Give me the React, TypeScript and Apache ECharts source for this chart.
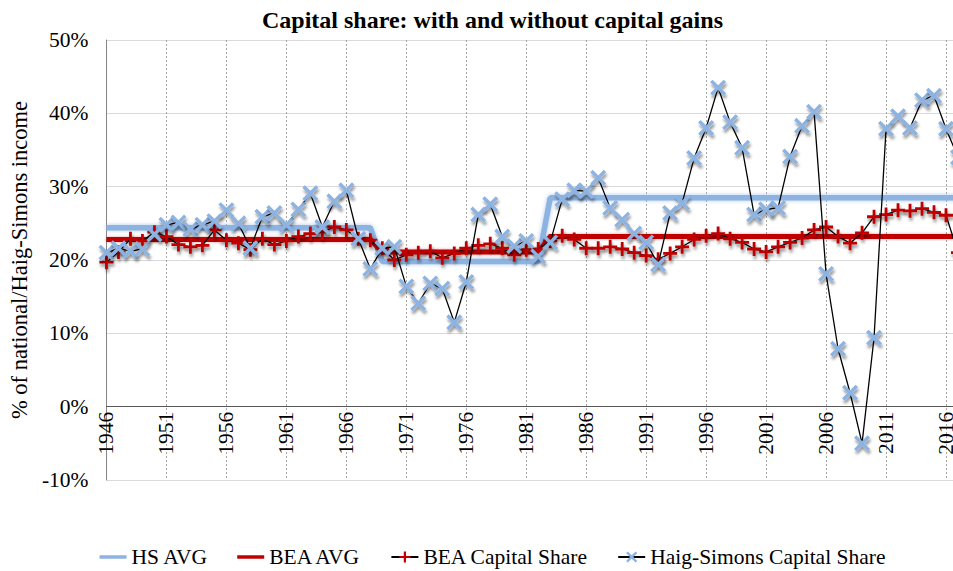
import React, { useEffect, useRef } from "react";
import * as echarts from "echarts";

const years = [
  "1946","1947","1948","1949","1950","1951","1952","1953","1954","1955",
  "1956","1957","1958","1959","1960","1961","1962","1963","1964","1965",
  "1966","1967","1968","1969","1970","1971","1972","1973","1974","1975",
  "1976","1977","1978","1979","1980","1981","1982","1983","1984","1985",
  "1986","1987","1988","1989","1990","1991","1992","1993","1994","1995",
  "1996","1997","1998","1999","2000","2001","2002","2003","2004","2005",
  "2006","2007","2008","2009","2010","2011","2012","2013","2014","2015",
  "2016","2017",
];

const beaShare = [
  19.7, 21.1, 22.9, 22.6, 23.8, 23.2, 22.1, 21.8, 22.0, 24.1,
  22.7, 22.3, 21.4, 22.9, 22.1, 22.6, 23.2, 23.6, 23.8, 24.5,
  24.1, 22.9, 22.7, 21.6, 20.0, 20.7, 21.0, 21.2, 20.3, 20.9,
  21.6, 22.0, 22.2, 21.6, 20.7, 21.4, 21.5, 22.6, 23.3, 22.8,
  21.6, 21.6, 21.8, 21.5, 21.0, 20.6, 20.1, 20.9, 21.8, 22.8,
  23.3, 23.6, 22.9, 22.4, 21.5, 21.1, 21.8, 22.4, 23.0, 24.1,
  24.5, 23.2, 22.3, 23.7, 25.9, 26.2, 26.8, 26.7, 27.0, 26.5,
  26.1, 21.0,
];

const hsShare = [
  21.0, 21.6, 21.2, 21.5, 23.5, 24.8, 25.1, 24.2, 24.8, 25.3,
  26.8, 25.0, 21.6, 25.9, 26.4, 24.8, 26.9, 29.1, 24.5, 28.0,
  29.5, 22.9, 18.8, 21.6, 21.8, 16.4, 14.1, 16.8, 16.1, 11.5,
  17.0, 26.2, 27.6, 23.2, 21.9, 22.6, 20.5, 22.4, 28.3, 29.5,
  29.4, 31.2, 27.1, 25.5, 23.6, 22.4, 19.4, 26.4, 27.8, 33.9,
  38.0, 43.5, 38.8, 35.3, 26.2, 26.9, 27.1, 34.1, 38.3, 40.2,
  18.1, 7.9, 1.9, -5.0, 9.4, 37.9, 39.6, 38.0, 41.8, 42.4,
  37.9, 34.0,
];

const hsAvg = [
  24.4, 24.4, 24.4, 24.4, 24.4, 24.4, 24.4, 24.4, 24.4, 24.4,
  24.4, 24.4, 24.4, 24.4, 24.4, 24.4, 24.4, 24.4, 24.4, 24.4,
  24.4, 24.4, 24.4, 19.8, 19.8, 19.8, 19.8, 19.8, 19.8, 19.8,
  19.8, 19.8, 19.8, 19.8, 19.8, 19.8, 19.8, 28.5, 28.5, 28.5,
  28.5, 28.5, 28.5, 28.5, 28.5, 28.5, 28.5, 28.5, 28.5, 28.5,
  28.5, 28.5, 28.5, 28.5, 28.5, 28.5, 28.5, 28.5, 28.5, 28.5,
  28.5, 28.5, 28.5, 28.5, 28.5, 28.5, 28.5, 28.5, 28.5, 28.5,
  28.5, 28.5,
];

const beaAvg = [
  22.8, 22.8, 22.8, 22.8, 22.8, 22.8, 22.8, 22.8, 22.8, 22.8,
  22.8, 22.8, 22.8, 22.8, 22.8, 22.8, 22.8, 22.8, 22.8, 22.8,
  22.8, 22.8, 22.8, 21.1, 21.1, 21.1, 21.1, 21.1, 21.1, 21.1,
  21.1, 21.1, 21.1, 21.1, 21.1, 21.1, 21.1, 23.2, 23.2, 23.2,
  23.2, 23.2, 23.2, 23.2, 23.2, 23.2, 23.2, 23.2, 23.2, 23.2,
  23.2, 23.2, 23.2, 23.2, 23.2, 23.2, 23.2, 23.2, 23.2, 23.2,
  23.2, 23.2, 23.2, 23.2, 23.2, 23.2, 23.2, 23.2, 23.2, 23.2,
  23.2, 23.2,
];

const FONT = "Liberation Serif";
const PLUS = "path://M4,0H6V4H10V6H6V10H4V6H0V4H4Z";
const CROSS =
  "path://M0,1.5L1.5,0L5,3.5L8.5,0L10,1.5L6.5,5L10,8.5L8.5,10L5,6.5L1.5,10L0,8.5L3.5,5Z";
const BAR_ICON = "path://M0,0H27V3.5H0Z";

export default function App() {
  const ref = useRef<HTMLDivElement>(null);

  useEffect(() => {
    if (!ref.current) return;
    const chart = echarts.init(ref.current, undefined, { renderer: "svg" });
    const markerShadow = {
      shadowColor: "rgba(0,0,0,0.45)",
      shadowBlur: 3,
      shadowOffsetX: 1,
      shadowOffsetY: 3,
    };
    chart.setOption({
      animation: false,
      backgroundColor: "#ffffff",
      textStyle: { fontFamily: FONT },
      title: {
        text: "Capital share: with and without capital gains",
        left: "center",
        top: 3,
        textStyle: {
          fontFamily: FONT,
          fontSize: 24,
          fontWeight: "bold",
          color: "#000",
        },
      },
      legend: {
        left: "center",
        top: 541,
        itemWidth: 27,
        itemHeight: 14,
        itemGap: 29,
        textStyle: { fontFamily: FONT, fontSize: 21.5, color: "#000" },
        data: [
          { name: "HS AVG", icon: BAR_ICON },
          { name: "BEA AVG", icon: BAR_ICON },
          { name: "BEA Capital Share" },
          { name: "Haig-Simons Capital Share" },
        ],
      },
      grid: { left: 99, right: 27, top: 40, bottom: 91, containLabel: false },
      xAxis: {
        type: "category",
        data: years,
        boundaryGap: false,
        position: "bottom",
        offset: -73.3,
        axisLine: { onZero: false, lineStyle: { color: "#595959", width: 1 } },
        axisTick: { show: false },
        axisLabel: {
          interval: 4,
          rotate: 90,
          margin: 5,
          fontFamily: FONT,
          fontSize: 21.5,
          color: "#000",
        },
        splitLine: {
          show: true,
          interval: 4,
          lineStyle: { type: [2, 2], color: "#a6a6a6", width: 1 },
        },
      },
      yAxis: {
        type: "value",
        min: -10,
        max: 50,
        interval: 10,
        name: "% of national/Haig-Simons income",
        nameLocation: "middle",
        nameGap: 64,
        nameTextStyle: { fontFamily: FONT, fontSize: 22.5, color: "#000" },
        axisLine: { show: true, lineStyle: { color: "#868686", width: 1 } },
        axisTick: { show: false },
        axisLabel: {
          formatter: "{value}%",
          margin: 18,
          fontFamily: FONT,
          fontSize: 21.5,
          color: "#000",
        },
        splitLine: { show: true, lineStyle: { color: "#d9d9d9", width: 1 } },
      },
      series: [
        {
          name: "HS AVG",
          type: "line",
          data: hsAvg,
          symbol: "none",
          color: "#8db3e2",
          lineStyle: {
            color: "#8db3e2",
            width: 5.5,
            shadowColor: "rgba(141,179,226,0.7)",
            shadowBlur: 4,
          },
          z: 2,
        },
        {
          name: "BEA AVG",
          type: "line",
          data: beaAvg,
          symbol: "none",
          color: "#c00000",
          lineStyle: {
            color: "#c00000",
            width: 5,
            shadowColor: "rgba(192,0,0,0.4)",
            shadowBlur: 3,
          },
          z: 3,
        },
        {
          name: "BEA Capital Share",
          type: "line",
          data: beaShare,
          symbol: PLUS,
          symbolSize: 14,
          showAllSymbol: true,
          color: "#c00000",
          itemStyle: { color: "#c00000", ...markerShadow },
          lineStyle: { color: "#000", width: 1.3 },
          z: 4,
        },
        {
          name: "Haig-Simons Capital Share",
          type: "line",
          data: hsShare,
          symbol: CROSS,
          symbolSize: 16,
          showAllSymbol: true,
          color: "#8db3e2",
          itemStyle: { color: "#8db3e2", ...markerShadow },
          lineStyle: { color: "#000", width: 1.3 },
          z: 5,
        },
      ],
    });
    return () => chart.dispose();
  }, []);

  return (
    <div
      style={{
        position: "fixed",
        left: 0,
        top: 0,
        width: 953,
        height: 571,
        overflow: "hidden",
        background: "#fff",
      }}
    >
      <div ref={ref} style={{ width: 985, height: 571 }} />
    </div>
  );
}
